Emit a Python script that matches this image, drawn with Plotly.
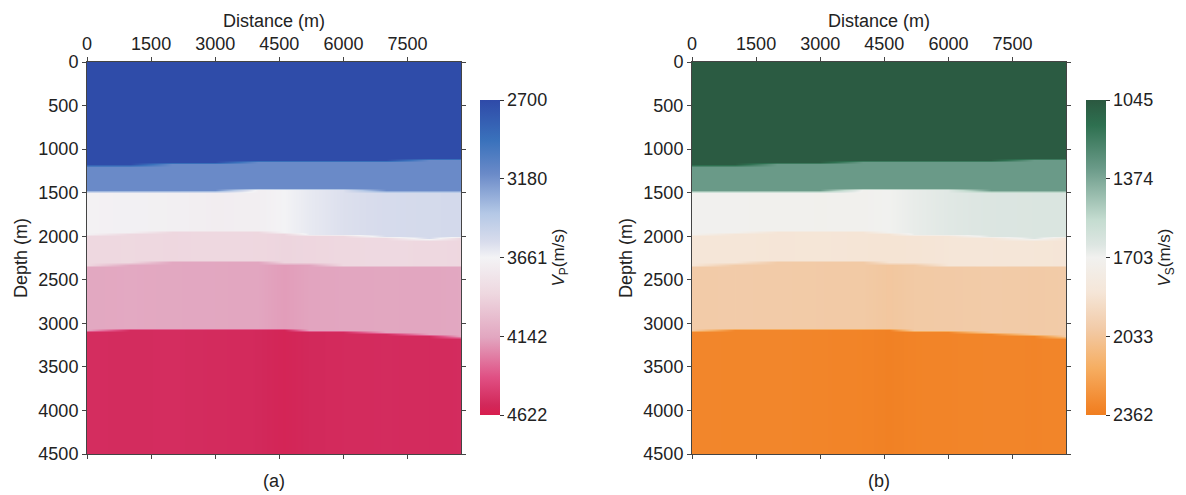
import numpy as np
import plotly.graph_objects as go

# Lateral control positions (m) and layer interfaces (depth, m) at each position
x_ctrl = [0, 1000, 2000, 3000, 4000, 4600, 5200, 6000, 7000, 8000, 8750]
interfaces = [
    [1190, 1180, 1170, 1160, 1150, 1145, 1140, 1135, 1130, 1125, 1120],
    [1500, 1495, 1490, 1480, 1470, 1460, 1465, 1475, 1485, 1490, 1490],
    [1990, 1960, 1940, 1930, 1950, 1965, 1980, 1990, 2025, 2030, 2010],
    [2330, 2305, 2285, 2280, 2295, 2310, 2320, 2330, 2340, 2350, 2350],
    [3100, 3070, 3055, 3055, 3065, 3075, 3085, 3100, 3120, 3140, 3160],
]

# P-wave velocity (m/s) of each layer at each control position
vp_layers = [
    [2710, 2710, 2710, 2710, 2710, 2710, 2710, 2710, 2710, 2710, 2710],
    [3150, 3150, 3150, 3150, 3150, 3150, 3150, 3150, 3150, 3150, 3150],
    [3680, 3685, 3690, 3710, 3700, 3661, 3620, 3580, 3555, 3545, 3540],
    [3880, 3875, 3885, 3880, 3885, 3895, 3890, 3880, 3870, 3880, 3885],
    [4140, 4135, 4140, 4145, 4150, 4175, 4155, 4150, 4145, 4150, 4140],
    [4540, 4545, 4540, 4548, 4555, 4580, 4558, 4550, 4545, 4550, 4545],
]

# S-wave velocity (m/s) of each layer at each control position
vs_layers = [
    [1060, 1060, 1060, 1060, 1060, 1060, 1060, 1060, 1060, 1060, 1060],
    [1330, 1330, 1330, 1330, 1330, 1330, 1330, 1330, 1330, 1330, 1330],
    [1710, 1712, 1715, 1720, 1715, 1703, 1680, 1660, 1645, 1640, 1638],
    [1850, 1848, 1852, 1850, 1855, 1862, 1858, 1850, 1845, 1850, 1852],
    [2000, 1997, 2000, 2003, 2007, 2022, 2008, 2004, 2000, 2004, 2000],
    [2320, 2323, 2320, 2326, 2332, 2345, 2332, 2328, 2324, 2328, 2324],
]

vp_ticks = [2700, 3180, 3661, 4142, 4622]
vs_ticks = [1045, 1374, 1703, 2033, 2362]
x_ticks = [0, 1500, 3000, 4500, 6000, 7500]
depth_ticks = [0, 500, 1000, 1500, 2000, 2500, 3000, 3500, 4000, 4500]

# Colour stops, position measured from the slowest velocity
vp_scale = [
    [0.0, "#2f4aa8"], [0.13, "#3a72bc"], [0.234, "#6a8ac8"], [0.36, "#b4c8e6"],
    [0.45, "#d8dcec"], [0.5, "#f3f3f5"], [0.614, "#eed8e0"], [0.754, "#e2a6c0"],
    [0.88, "#e05084"], [0.968, "#d2285a"], [1.0, "#d81e4e"],
]
vs_scale = [
    [0.0, "#2b5840"], [0.08, "#2e7050"], [0.216, "#6a9a88"], [0.38, "#c4dcd0"],
    [0.46, "#dde6e2"], [0.5, "#f1f1ef"], [0.61, "#f5e6d8"], [0.725, "#f2cba8"],
    [0.85, "#f6ae62"], [0.975, "#f28428"], [1.0, "#f07e20"],
]

depth = np.arange(0, 4501, 25)


def layered_grid(layers):
    bounds = np.array(interfaces)
    vel = np.array(layers)
    idx = np.zeros((len(depth), len(x_ctrl)), dtype=int)
    for b in bounds:
        idx += (depth[:, None] >= b[None, :]).astype(int)
    return vel[idx, np.arange(len(x_ctrl))[None, :]]


FONT = "Liberation Sans Narrow, Arial Narrow, Liberation Sans, Arial, sans-serif"
W, H = 1186, 495

fig = go.Figure()

panels = [
    dict(layers=vp_layers, scale=vp_scale, ticks=vp_ticks, x0=87, x1=461,
         cbx=480, title="<i>V</i><sub>P</sub>(m/s)", label="(a)", xa="x", ya="y"),
    dict(layers=vs_layers, scale=vs_scale, ticks=vs_ticks, x0=692, x1=1066,
         cbx=1086, title="<i>V</i><sub>S</sub>(m/s)", label="(b)", xa="x2", ya="y2"),
]

for p in panels:
    # velocities are negated so the colour bar runs slow-at-top, fast-at-bottom
    scale = sorted([[1 - t, c] for t, c in p["scale"]])
    grid = layered_grid(p["layers"])
    fig.add_trace(go.Heatmap(
        x=x_ctrl, y=depth, z=-grid,
        colorscale=scale, zmin=-p["ticks"][-1], zmax=-p["ticks"][0],
        zsmooth="best", xaxis=p["xa"], yaxis=p["ya"],
        customdata=grid,
        hovertemplate="x=%{x}<br>z=%{y}<br>v=%{customdata}<extra></extra>",
        colorbar=dict(
            x=p["cbx"] / W, xanchor="left", y=1 - 257.5 / H, yanchor="middle",
            len=315 / H, thickness=20, outlinewidth=0, xpad=0, ypad=0,
            tickvals=[-v for v in p["ticks"]], ticktext=[str(v) for v in p["ticks"]],
            ticks="outside", ticklen=4, tickcolor="#333",
            tickfont=dict(family=FONT, size=18, color="#222"),
            title=dict(text=p["title"], side="right",
                       font=dict(family=FONT, size=17, color="#222")),
        ),
    ))

axis_common = dict(showline=True, linecolor="#444", linewidth=1, mirror="ticks",
                   ticks="outside", ticklen=4, tickcolor="#444", showgrid=False,
                   zeroline=False, tickfont=dict(family=FONT, size=18, color="#222"))

y_dom = [1 - 454 / H, 1 - 62 / H]
layout = dict(
    width=W, height=H, margin=dict(l=0, r=0, t=0, b=0, autoexpand=False),
    paper_bgcolor="white", plot_bgcolor="white",
    font=dict(family=FONT, color="#222"),
)
for i, p in enumerate(panels):
    sfx = "" if i == 0 else "2"
    layout["xaxis" + sfx] = dict(
        axis_common, domain=[p["x0"] / W, p["x1"] / W], range=[0, 8750],
        side="top", tickvals=x_ticks, anchor="y" + sfx,
        title=dict(text="Distance (m)", standoff=1, font=dict(family=FONT, size=18)),
    )
    layout["yaxis" + sfx] = dict(
        axis_common, domain=y_dom, range=[4500, 0], tickvals=depth_ticks,
        anchor="x" + sfx,
        title=dict(text="Depth (m)", standoff=6, font=dict(family=FONT, size=18)),
    )
fig.update_layout(**layout)

for p in panels:
    fig.add_annotation(
        text=p["label"], xref="paper", yref="paper",
        x=(p["x0"] + p["x1"]) / 2 / W, y=1 - 481 / H, showarrow=False,
        xanchor="center", yanchor="middle",
        font=dict(family=FONT, size=18, color="#222"),
    )

fig.write_html("out.html")
